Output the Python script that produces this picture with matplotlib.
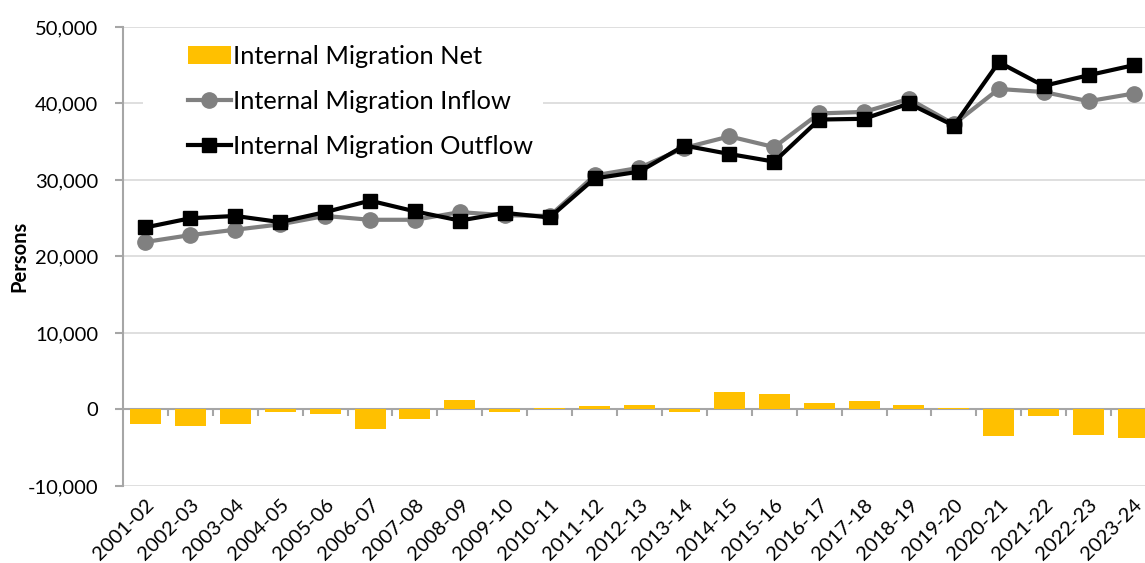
import matplotlib
matplotlib.use("Agg")
import matplotlib.pyplot as plt
from matplotlib.patches import Rectangle
import numpy as np

# financial years
years = ["2001-02", "2002-03", "2003-04", "2004-05", "2005-06", "2006-07",
         "2007-08", "2008-09", "2009-10", "2010-11", "2011-12", "2012-13",
         "2013-14", "2014-15", "2015-16", "2016-17", "2017-18", "2018-19",
         "2019-20", "2020-21", "2021-22", "2022-23", "2023-24"]

inflow = [21900, 22800, 23500, 24200, 25300, 24800, 24800, 25800, 25400,
          25300, 30600, 31600, 34200, 35700, 34300, 38700, 38900, 40600,
          37300, 41900, 41500, 40300, 41300]

outflow = [23800, 25000, 25300, 24500, 25800, 27300, 25900, 24700, 25700,
           25100, 30200, 31100, 34500, 33400, 32400, 37900, 38000, 40000,
           37100, 45400, 42300, 43700, 45000]

net = [-1950, -2200, -1950, -300, -650, -2550, -1200, 1200, -300, 250, 450,
       650, -300, 2350, 2000, 850, 1050, 650, 250, -3500, -800, -3300, -3700]

plt.rcParams["font.family"] = ["Lato", "DejaVu Sans"]
plt.rcParams["axes.unicode_minus"] = False

W, H = 1145, 563
fig = plt.figure(figsize=(W / 100, H / 100), dpi=100)
ax = fig.add_axes([123 / W, 1 - 486 / H, 1033 / W, (486 - 27) / H])

x = np.arange(len(years))
b = ax.bar(x, net, width=0.69, color="#FFC000", label="Internal Migration Net", zorder=2)
l1, = ax.plot(x, inflow, color="#808080", lw=3, marker="o", ms=11,
              label="Internal Migration Inflow", zorder=3)
l2, = ax.plot(x, outflow, color="black", lw=3, marker="s", ms=9.5,
              label="Internal Migration Outflow", zorder=4)

ax.set_xlim(-0.5, len(years) - 0.5)
ax.set_ylim(-10000, 50000)
ax.set_yticks(range(-10000, 50001, 10000))
ax.yaxis.set_major_formatter(matplotlib.ticker.StrMethodFormatter("{x:,.0f}"))
ax.grid(axis="y", color="#d9d9d9", lw=1.2, zorder=0)
ax.set_axisbelow(True)

for s in ["top", "right", "bottom"]:
    ax.spines[s].set_visible(False)
ax.spines["left"].set_color("#a6a6a6")
ax.spines["left"].set_linewidth(1.5)

# category axis sits at zero, ticks between categories
ax.axhline(0, color="#a6a6a6", lw=1.5, zorder=1)
ax.vlines(x[:-1] + 0.5, -900, 0, color="#a6a6a6", lw=1.5, zorder=1)

ax.set_xticks(x)
ax.set_xticklabels(years, rotation=45, ha="right", va="top",
                   rotation_mode="anchor", fontsize=14.5)
ax.tick_params(axis="x", length=0, pad=7)
ax.tick_params(axis="y", length=6, color="#a6a6a6", width=1.5, labelsize=14.5, pad=12)

fig.text(19 / W, 1 - 256 / H, "Persons", rotation=90, ha="center", va="center",
         fontsize=14.5, fontweight="bold")

# white legend box area (hides gridline behind legend like excel)
ax.add_patch(Rectangle((143 / W, 1 - 172 / H), 400 / W, 140 / H,
                       transform=fig.transFigure, facecolor="white",
                       edgecolor="none", zorder=1))

leg = ax.legend([b, l1, l2], [b.get_label(), l1.get_label(), l2.get_label()],
                loc="upper left", bbox_to_anchor=(188 / W, 1 - 45 / H),
                bbox_transform=fig.transFigure, fontsize=18.3, frameon=False,
                handlelength=1.68, handleheight=0.7, handletextpad=0.1,
                labelspacing=0.86, borderpad=0, borderaxespad=0)

fig.savefig("out.png", dpi=100)
